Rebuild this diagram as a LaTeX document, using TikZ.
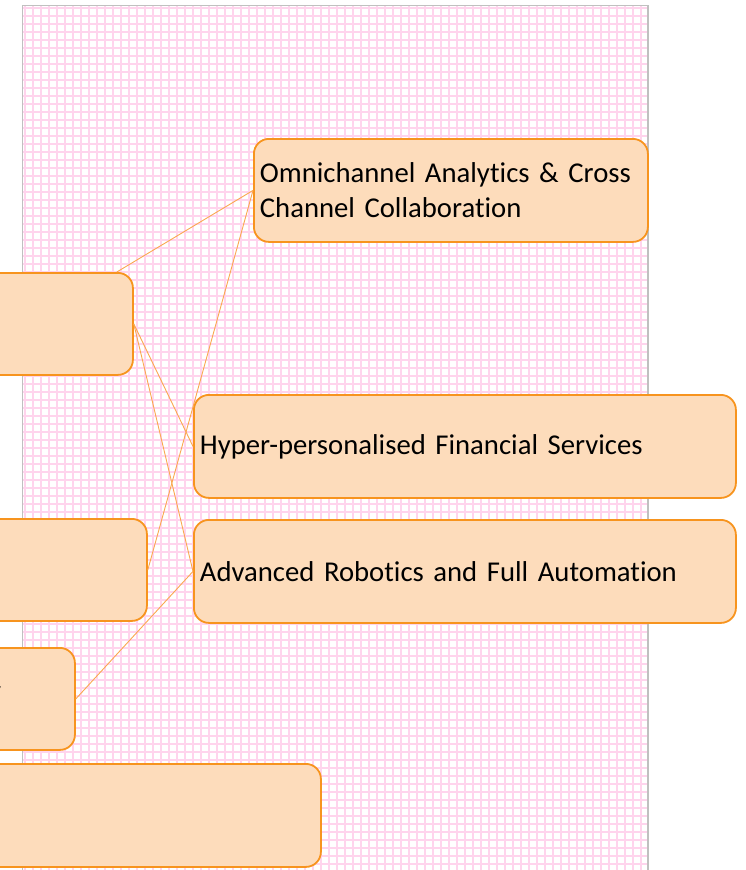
\documentclass[tikz,border=0pt]{standalone}
\usepackage{fontspec}
\setmainfont{Carlito}[Ligatures={NoCommon}]
\usetikzlibrary{positioning,calc}
\definecolor{boxfill}{RGB}{253,220,187}
\definecolor{boxedge}{RGB}{247,148,30}
\definecolor{linkline}{RGB}{250,168,80}
\definecolor{gridpink}{RGB}{255,212,237}
\definecolor{pageedge}{RGB}{192,192,192}
\tikzset{idea/.style={draw=boxedge, fill=boxfill, line width=1.8pt, rounded corners=15pt, anchor=north west, inner sep=6pt, align=left, font=\fontsize{28.7}{35}\selectfont},
  link/.style={linkline, line width=0.9pt}}

\begin{document}
\begin{tikzpicture}[x=1pt,y=-1pt]
\useasboundingbox (0,0) rectangle (745,870);

% squared paper
\foreach \gx in {25,33,...,641}
  \draw[gridpink, line width=1.8pt] (\gx,6) -- (\gx,872);
\foreach \gy in {8,16,...,868}
  \draw[gridpink, line width=1.8pt] (22,\gy) -- (648,\gy);
\draw[pageedge, line width=1.5pt] (22.5,875) -- (22.5,5.5) -- (648,5.5) -- (648,875);

\node[idea, minimum width=394, minimum height=103, text width=382] (omni) at (253,138) {Omnichannel Analytics \& Cross\\Channel Collaboration};
\node[idea, minimum width=542, minimum height=103, text width=530] (hyper) at (193,394) {Hyper-personalised Financial Services};
\node[idea, minimum width=542, minimum height=103, text width=530] (robot) at (193,519) {Advanced Robotics and Full Automation};

\node[idea, minimum width=382, minimum height=102] (bank) at (-250,272) {};
\node[idea, minimum width=396, minimum height=102] (mid) at (-250,518) {};
\node[idea, minimum width=324, minimum height=102] (small) at (-250,647) {};
\node[anchor=base east, inner sep=0pt, font=\fontsize{28.7}{35}\selectfont] (tail) at (1.2,700) {y};
\node[idea, minimum width=570, minimum height=103] (wide) at (-250,763) {};

\draw[link] ($(bank.north east)+(-17,0)$) -- (omni.west);
\draw[link] (bank.east) -- (hyper.west);
\draw[link] (bank.east) -- (robot.west);
\draw[link] (mid.east) -- (omni.west);
\draw[link] (small.east) -- (robot.west);

\end{tikzpicture}
\end{document}
